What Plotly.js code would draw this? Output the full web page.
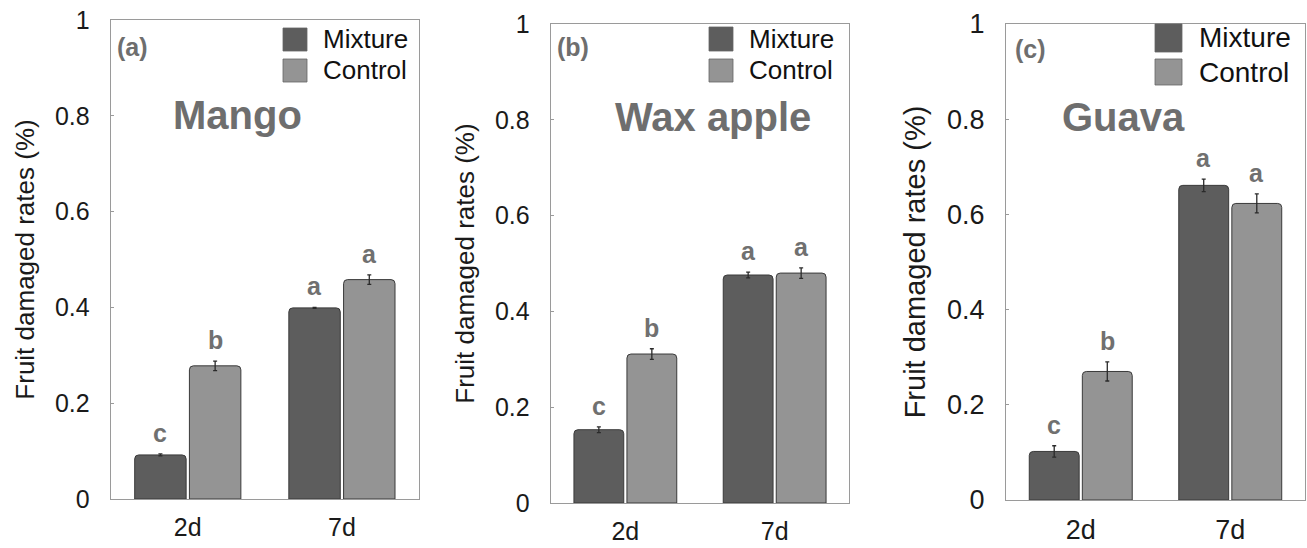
<!DOCTYPE html>
<html>
<head>
<meta charset="utf-8">
<script src="https://cdn.plot.ly/plotly-3.0.1.min.js"></script>
<style>html,body{margin:0;padding:0;background:#fff;}#chart{width:1307px;height:548px;}</style>
</head>
<body>
<div id="chart"></div>
<script>
// ---- data ----
const categories = ['2d', '7d'];
const fruits = ['Mango', 'Wax apple', 'Guava'];
const panelLabels = ['(a)', '(b)', '(c)'];
const mixtureMango = [0.092, 0.399];
const controlMango = [0.278, 0.458];
const mixtureMangoErr = [0.002, 0.001];
const controlMangoErr = [0.010, 0.010];
const mixtureWax = [0.153, 0.476];
const controlWax = [0.311, 0.480];
const mixtureWaxErr = [0.006, 0.006];
const controlWaxErr = [0.011, 0.011];
const mixtureGuava = [0.102, 0.661];
const controlGuava = [0.270, 0.623];
const mixtureGuavaErr = [0.012, 0.013];
const controlGuavaErr = [0.020, 0.020];
const lettersMango = [['c', 'a'], ['b', 'a']];
const lettersWax = [['c', 'a'], ['b', 'a']];
const lettersGuava = [['c', 'a'], ['b', 'a']];
const seriesNames = ['Mixture', 'Control'];

// ---- layout helpers ----
const W = 1307, H = 548;
const xp = px => px / W;
const yp = py => 1 - py / H;
const colMix = '#5d5d5d', colCtl = '#949494', outline = '#3a3a3a';
const bargap = 0.29, bargroupgap = 0.06;
const FONT = 'Liberation Sans, Arial, Helvetica, sans-serif';

const panels = [
  {mix: mixtureMango, ctl: controlMango, me: mixtureMangoErr, ce: controlMangoErr, let: lettersMango,
   box: [110.7, 419, 20, 499], tick: 25, ytitle: 26, leg: {sx: 283, sw: 24, y1: [28, 51], y2: [59, 82], tx: 321, fs: 26},
   lab: [115, 47], title: [237, 115]},
  {mix: mixtureWax, ctl: controlWax, me: mixtureWaxErr, ce: controlWaxErr, let: lettersWax,
   box: [550.7, 849.3, 24, 503], tick: 25, ytitle: 26, leg: {sx: 709, sw: 24, y1: [27, 51], y2: [59, 82], tx: 747, fs: 26},
   lab: [555, 47], title: [713, 117]},
  {mix: mixtureGuava, ctl: controlGuava, me: mixtureGuavaErr, ce: controlGuavaErr, let: lettersGuava,
   box: [1006, 1305, 24, 500], tick: 27, ytitle: 29, leg: {sx: 1155, sw: 27, y1: [24, 52], y2: [59, 85], tx: 1197, fs: 28},
   lab: [1013, 49], title: [1123, 117]}
];

const data = [];
const layout = {
  width: W, height: H,
  margin: {l: 0, r: 0, t: 0, b: 0},
  paper_bgcolor: '#fff', plot_bgcolor: '#fff',
  barmode: 'group', bargap: bargap, bargroupgap: bargroupgap,
  showlegend: false,
  font: {family: FONT, color: '#1a1a1a'},
  annotations: [], shapes: []
};

panels.forEach((p, i) => {
  const n = i + 1;
  const xa = 'x' + (n === 1 ? '' : n), ya = 'y' + (n === 1 ? '' : n);
  const xk = 'xaxis' + (n === 1 ? '' : n), yk = 'yaxis' + (n === 1 ? '' : n);
  const [l, r, t, b] = p.box;
  [[p.mix, p.me, colMix, seriesNames[0]], [p.ctl, p.ce, colCtl, seriesNames[1]]].forEach(([vals, errs, col, nm]) => {
    data.push({
      type: 'bar', x: categories, y: vals, name: nm, xaxis: xa, yaxis: ya,
      marker: {color: col, line: {color: outline, width: 1}, cornerradius: 4},
      error_y: {type: 'data', array: errs, visible: true, color: '#2a2a2a', thickness: 1.3, width: 2},
      hoverinfo: 'skip'
    });
  });
  layout[xk] = {
    domain: [xp(l), xp(r)], anchor: ya, type: 'category', range: [-0.5, 1.5],
    showline: true, mirror: true, linecolor: '#9a9a9a', linewidth: 1,
    ticks: '', showgrid: false, zeroline: false, fixedrange: true,
    tickfont: {size: p.tick, family: FONT, color: '#1a1a1a'}, ticklabelstandoff: 6
  };
  layout[yk] = {
    domain: [yp(b), yp(t)], anchor: xa, range: [0, 1], dtick: 0.2,
    showline: true, mirror: true, linecolor: '#9a9a9a', linewidth: 1,
    ticks: 'inside', ticklen: 3, tickcolor: '#9a9a9a', showgrid: false, zeroline: false, fixedrange: true,
    tickfont: {size: p.tick, family: FONT, color: '#1a1a1a'}, ticklabelstandoff: 15,
    title: {text: 'Fruit damaged rates (%)', font: {size: p.ytitle, family: FONT, color: '#1a1a1a'}, standoff: 12}
  };
  // significance letters
  const unitPx = (r - l) / 2;
  const off = (1 - bargap) / 4 * unitPx;
  [[p.mix, p.me, p.let[0], -off], [p.ctl, p.ce, p.let[1], off]].forEach(([vals, errs, lets, sh]) => {
    categories.forEach((c, k) => {
      layout.annotations.push({
        xref: xa, yref: ya, x: c, y: vals[k] + errs[k], xshift: sh, yshift: 5,
        yanchor: 'bottom', xanchor: 'center', showarrow: false, text: lets[k],
        font: {size: 25, family: FONT, color: '#707070', weight: 'bold'}
      });
    });
  });
  // panel label
  layout.annotations.push({xref: 'paper', yref: 'paper', x: xp(p.lab[0]), y: yp(p.lab[1]), xanchor: 'left', yanchor: 'middle',
    showarrow: false, text: '<b>' + panelLabels[i] + '</b>', font: {size: 25, family: FONT, color: '#6e6e6e'}});
  // fruit title
  layout.annotations.push({xref: 'paper', yref: 'paper', x: xp(p.title[0]), y: yp(p.title[1]), xanchor: 'center', yanchor: 'middle',
    showarrow: false, text: '<b>' + fruits[i] + '</b>', font: {size: 40, family: FONT, color: '#6e6e6e'}});
  // legend
  const lg = p.leg;
  [[lg.y1, colMix, seriesNames[0]], [lg.y2, colCtl, seriesNames[1]]].forEach(([yy, col, nm]) => {
    layout.shapes.push({type: 'rect', xref: 'paper', yref: 'paper', x0: xp(lg.sx), x1: xp(lg.sx + lg.sw), y0: yp(yy[1]), y1: yp(yy[0]),
      fillcolor: col, line: {color: '#666', width: 0.8}});
    layout.annotations.push({xref: 'paper', yref: 'paper', x: xp(lg.tx), y: yp((yy[0] + yy[1]) / 2), xanchor: 'left', yanchor: 'middle',
      showarrow: false, text: nm, font: {size: lg.fs, family: FONT, color: '#111'}});
  });
});

Plotly.newPlot('chart', data, layout, {displayModeBar: false, staticPlot: true});
</script>
</body>
</html>
